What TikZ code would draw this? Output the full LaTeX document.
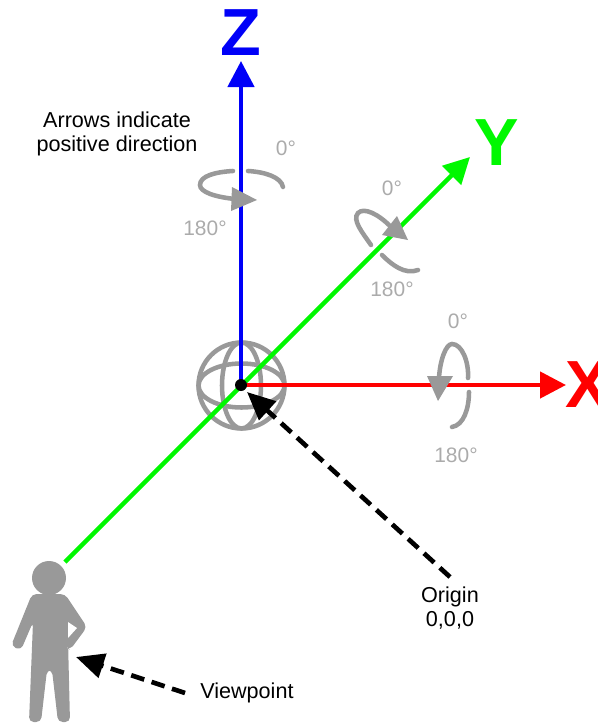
\documentclass[tikz,border=0pt]{standalone}
\usepackage{fontspec}
\setmainfont{Liberation Sans}
\usetikzlibrary{arrows.meta}
\definecolor{rotgray}{HTML}{999999}
\definecolor{labgray}{HTML}{ABABAB}
\definecolor{axred}{HTML}{FF0000}
\definecolor{axgreen}{HTML}{00F800}
\definecolor{axblue}{HTML}{0000F8}
\tikzset{
  axisline/.style={line width=3.4pt,-{Triangle[length=19.5pt,width=19.5pt]}},
  axislabel/.style={font=\fontsize{50}{50}\selectfont\bfseries,inner sep=0pt},
  rotarc/.style={draw=rotgray,line width=3.4pt,line cap=round},
  rothead/.style={fill=rotgray,draw=none},
  globeline/.style={draw=rotgray,line width=3.4pt},
  pointer/.style={line width=3.5pt,black,dash pattern=on 10.3pt off 5.8pt,-{Triangle[length=21pt,width=18.5pt]}},
  notetext/.style={font=\fontsize{16.2}{18}\selectfont,align=center,inner sep=0pt,black},
  deg/.style={font=\fontsize{15.7}{18}\selectfont,inner sep=0pt,text=labgray},
}
\begin{document}
\begin{tikzpicture}[x=0.75pt,y=-0.75pt]
\useasboundingbox (0,0) rectangle (598,725);
% globe
\draw[globeline] (241.5,385.5) circle (43);
\draw[globeline] (241.5,385.5) ellipse (19.5 and 43);
\draw[globeline] (241.5,385.5) ellipse (43 and 22);
% person
\fill[rotgray] (49,578) circle (17);
\fill[rotgray,rounded corners=3.5pt]
  (32,594) -- (65,594) -- (87,627) -- (70,650) -- (66,647) -- (68,640) -- (70,722)
  -- (58,722) -- (52,670) -- (47,670) -- (41,722) -- (29,722) -- (33,622)
  -- (21,650) -- (11,646) -- cycle;
\fill[white] (68,622) -- (77,628) -- (68,638) -- cycle;
% coordinates
\coordinate (origin) at (241,385);
\coordinate (ztip) at (241,61);
\coordinate (xtip) at (566,385);
\coordinate (ytip) at (470,157);
\coordinate (ystart) at (65,562);
\coordinate (origintail) at (450,577);
\coordinate (origintip) at (247,392);
\coordinate (viewtail) at (185,693);
\coordinate (viewtip) at (76,657);
% axes
\draw[axisline,axgreen] (ystart) -- (ytip);
\draw[axisline,axred] (origin) -- (xtip);
\draw[axisline,axblue] (origin) -- (ztip);
\fill[black] (origin) circle (6);
\node[axislabel,text=axblue] (zlab) at (241,33) {Z};
\node[axislabel,text=axgreen] (ylab) at (497,143) {Y};
\node[axislabel,text=axred,anchor=west] (xlab) at (565,385) {X};
% rotation Z
\draw[rotarc] (233,171) .. controls (215,172) and (200,176) .. (200,185) .. controls (200,192) and (215,197) .. (235,199);
\draw[rotarc] (248,171) .. controls (265,172) and (281,177) .. (283,187);
\fill[rothead] (232,187) -- (257,200) -- (231,211) -- cycle;
% rotation Y
\draw[rotarc] (371,245) .. controls (362,232) and (352,220) .. (358,213) .. controls (364,207) and (378,214) .. (390,226);
\draw[rotarc] (382,255) .. controls (392,265) and (405,275) .. (418,270);
\fill[rothead] (397,216) -- (408,240) -- (382,235) -- cycle;
% rotation X
\draw[rotarc] (439,378) .. controls (440,360) and (446,344) .. (452,344) .. controls (462,344) and (469,362) .. (468,378);
\draw[rotarc] (469,392) .. controls (469,408) and (464,425) .. (452,427);
\fill[rothead] (427,376) -- (453,376) -- (438,401) -- cycle;
% pointers
\draw[pointer] (origintail) -- (origintip);
\draw[pointer] (viewtail) -- (viewtip);
% text
\node[notetext] (note) at (117,134) {Arrows indicate\\positive direction};
\node[notetext] (originlab) at (450,608) {Origin\\0,0,0};
\node[notetext,anchor=west] (viewlab) at (200,693) {Viewpoint};
\node[deg] (za) at (286,148) {0°};
\node[deg] (zb) at (205,228) {180°};
\node[deg] (ya) at (392,188) {0°};
\node[deg] (yb) at (392,289) {180°};
\node[deg] (xa) at (458,321) {0°};
\node[deg] (xb) at (456,455) {180°};
\end{tikzpicture}
\end{document}
